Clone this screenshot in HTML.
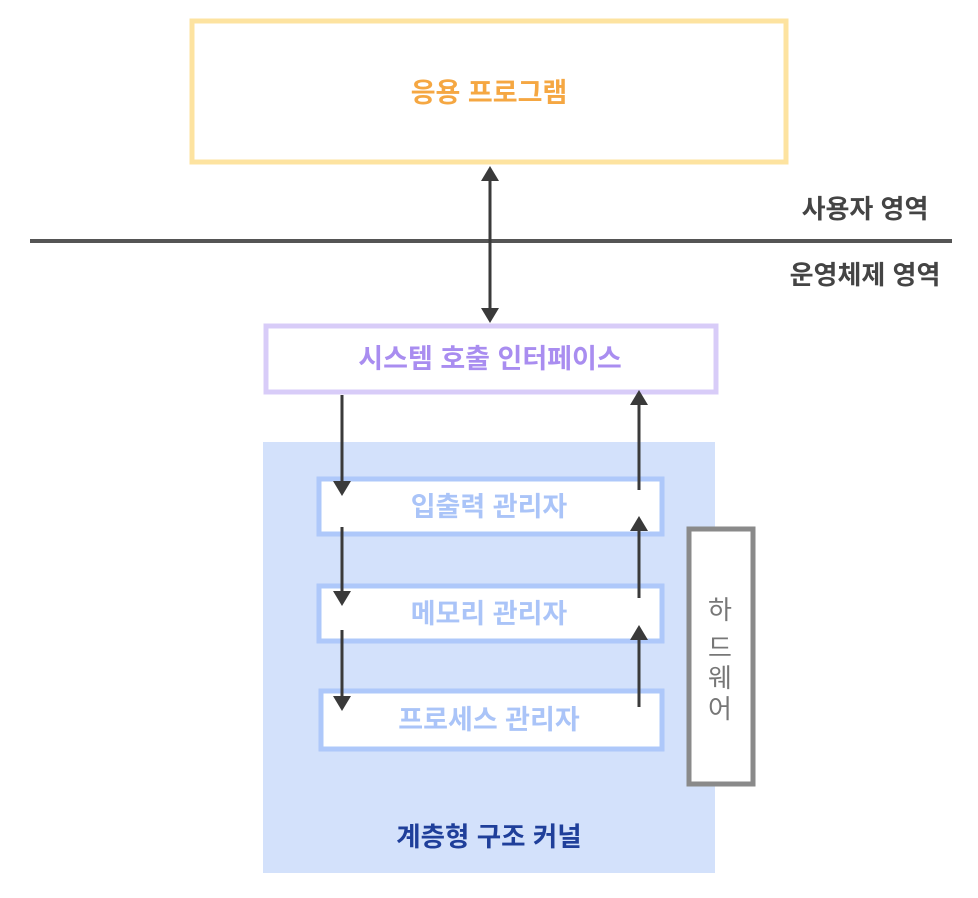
<!DOCTYPE html>
<html><head><meta charset="utf-8"><style>
html,body{margin:0;padding:0;background:#fff;}
svg{display:block;font-family:"Liberation Sans","Noto Sans CJK KR",sans-serif;}
</style></head><body>
<svg width="978" height="898" viewBox="0 0 978 898" xmlns="http://www.w3.org/2000/svg">
<rect x="0" y="0" width="978" height="898" fill="#fff"/>
<rect x="192" y="21" width="594" height="141" fill="#fff" stroke="#fde3a0" stroke-width="5"/>
<text x="489" y="102" font-size="27" font-weight="bold" fill="#f5a742" text-anchor="middle">응용 프로그램</text>
<line x1="30" y1="241" x2="952" y2="241" stroke="#555" stroke-width="4"/>
<text x="865" y="218" font-size="26" font-weight="bold" fill="#444" text-anchor="middle">사용자 영역</text>
<text x="865" y="284" font-size="26" font-weight="bold" fill="#444" text-anchor="middle">운영체제 영역</text>
<line x1="490" y1="178" x2="490" y2="312" stroke="#3a3a3a" stroke-width="3"/>
<polygon points="490,166 481,181 499,181" fill="#3a3a3a"/>
<polygon points="490,323 481,308 499,308" fill="#3a3a3a"/>
<rect x="266" y="326" width="450" height="66" fill="#fff" stroke="#d8ccf8" stroke-width="5"/>
<text x="490" y="368" font-size="27" font-weight="bold" fill="#a98df0" text-anchor="middle">시스템 호출 인터페이스</text>
<rect x="263" y="442" width="452" height="431" fill="#d3e1fb"/>
<rect x="319" y="479" width="343" height="55" fill="#fff" stroke="#aec8fa" stroke-width="5"/>
<text x="489" y="516" font-size="27" font-weight="bold" fill="#aac4f8" text-anchor="middle">입출력 관리자</text>
<rect x="319" y="586" width="343" height="55" fill="#fff" stroke="#aec8fa" stroke-width="5"/>
<text x="489" y="623" font-size="27" font-weight="bold" fill="#aac4f8" text-anchor="middle">메모리 관리자</text>
<rect x="321" y="691" width="341" height="58" fill="#fff" stroke="#aec8fa" stroke-width="5"/>
<text x="489" y="729" font-size="27" font-weight="bold" fill="#aac4f8" text-anchor="middle">프로세스 관리자</text>
<text x="489" y="846" font-size="26.5" font-weight="bold" fill="#1f3f9a" text-anchor="middle">계층형 구조 커널</text>
<g stroke="#3a3a3a" stroke-width="3" fill="#3a3a3a">
<line x1="342" y1="395" x2="342" y2="485"/>
<polygon points="342,496 333,481 351,481" stroke="none"/>
<line x1="342" y1="527" x2="342" y2="595"/>
<polygon points="342,606 333,591 351,591" stroke="none"/>
<line x1="342" y1="630" x2="342" y2="700"/>
<polygon points="342,711 333,696 351,696" stroke="none"/>
<line x1="639" y1="490" x2="639" y2="400"/>
<polygon points="639,390 630,405 648,405" stroke="none"/>
<line x1="639" y1="598" x2="639" y2="527"/>
<polygon points="639,516 630,531 648,531" stroke="none"/>
<line x1="639" y1="707" x2="639" y2="636"/>
<polygon points="639,625 630,640 648,640" stroke="none"/>
</g>
<rect x="689" y="529" width="64" height="255" fill="#fff" stroke="#8a8a8a" stroke-width="5"/>
<g font-size="26" fill="#777" text-anchor="middle">
<text x="720" y="619">하</text>
<text x="720" y="657">드</text>
<text x="720" y="687">웨</text>
<text x="720" y="718">어</text>
</g>
</svg>
</body></html>
